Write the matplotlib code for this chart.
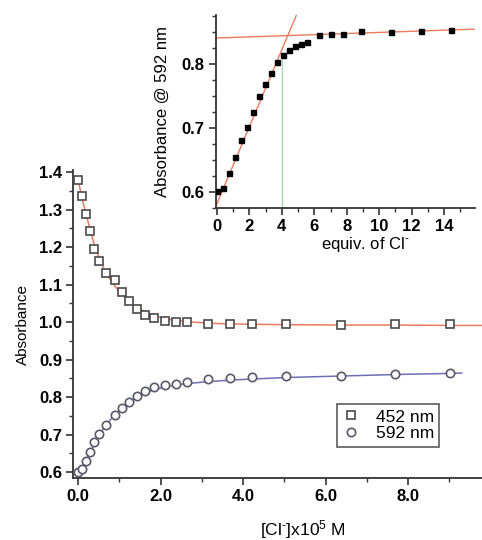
import matplotlib
matplotlib.use('Agg')
import matplotlib.pyplot as plt
from matplotlib.ticker import MultipleLocator, FormatStrFormatter

plt.rcParams['font.family'] = ['Liberation Sans', 'DejaVu Sans']
plt.rcParams['mathtext.fontset'] = 'custom'
plt.rcParams['mathtext.rm'] = 'Liberation Sans'
plt.rcParams['mathtext.it'] = 'Liberation Sans:italic'

# main plot: concentration of Cl- (x10^5 M)
conc = [0.0, 0.10, 0.20, 0.29, 0.40, 0.52, 0.69, 0.90, 1.06, 1.24, 1.42, 1.62,
        1.85, 2.11, 2.38, 2.65, 3.16, 3.68, 4.21, 5.04, 6.37, 7.68, 9.02]
abs452 = [1.379, 1.335, 1.288, 1.243, 1.196, 1.163, 1.131, 1.112, 1.079, 1.056,
          1.035, 1.019, 1.010, 1.004, 1.001, 0.999, 0.996, 0.996, 0.994, 0.995,
          0.993, 0.994, 0.994]
abs592 = [0.599, 0.607, 0.630, 0.654, 0.681, 0.701, 0.725, 0.752, 0.771, 0.787,
          0.803, 0.815, 0.827, 0.831, 0.836, 0.840, 0.849, 0.851, 0.853, 0.857,
          0.857, 0.861, 0.864]

# fitted curves
fit452_x = [0.0, 0.10, 0.20, 0.30, 0.40, 0.52, 0.69, 0.90, 1.06, 1.24, 1.42, 1.62,
            1.85, 2.11, 2.38, 2.65, 3.16, 3.68, 4.21, 5.04, 6.37, 7.68, 9.02, 9.8]
fit452_y = [1.381, 1.330, 1.285, 1.245, 1.205, 1.168, 1.128, 1.095, 1.074, 1.055,
            1.040, 1.027, 1.017, 1.009, 1.004, 1.001, 0.997, 0.995, 0.994, 0.993,
            0.992, 0.992, 0.991, 0.991]
fit592_x = [0.0, 0.10, 0.20, 0.30, 0.40, 0.52, 0.69, 0.90, 1.06, 1.24, 1.42, 1.62,
            1.85, 2.11, 2.38, 2.65, 3.16, 3.68, 4.21, 5.04, 6.37, 7.68, 9.02, 9.3]
fit592_y = [0.598, 0.610, 0.630, 0.652, 0.675, 0.699, 0.727, 0.754, 0.771, 0.787,
            0.800, 0.811, 0.820, 0.827, 0.832, 0.836, 0.841, 0.845, 0.848, 0.852,
            0.856, 0.860, 0.863, 0.864]

# inset: equivalents of Cl-
equiv = [0.0, 0.37, 0.74, 1.11, 1.48, 1.85, 2.22, 2.59, 2.96, 3.33, 3.70, 4.07,
         4.44, 4.81, 5.18, 5.55, 6.30, 7.04, 7.78, 8.90, 10.75, 12.60, 14.45]
abs592_inset = [0.602, 0.607, 0.629, 0.655, 0.681, 0.702, 0.725, 0.750, 0.769,
                0.786, 0.803, 0.814, 0.823, 0.828, 0.832, 0.835, 0.845, 0.847,
                0.848, 0.852, 0.850, 0.852, 0.853]
steep_x = [-0.06, 4.9]
steep_y = [0.578, 0.877]
flat_x = [-0.06, 16.0]
flat_y = [0.841, 0.855]
endpoint_x = [4.0, 4.0]
endpoint_y = [0.575, 0.815]

fig = plt.figure(figsize=(4.82, 5.4), dpi=100)

ax = fig.add_axes([0.1515, 0.1148, 0.8485, 0.570])
ax.plot(fit452_x, fit452_y, color='#ec7a5e', lw=1.1, zorder=2)
ax.plot(fit592_x, fit592_y, color='#6e6eb4', lw=1.1, zorder=2)
ax.plot(conc, abs452, 's', ms=5.5, mfc='white', mec='#4a4a4a', mew=1.2,
        label='452 nm', zorder=3)
ax.plot(conc, abs592, 'o', ms=6, mfc='white', mec='#585868', mew=1.2,
        label='592 nm', zorder=3)
ax.set_xlim(-0.12, 9.79)
ax.set_ylim(0.584, 1.405)
ax.xaxis.set_major_locator(MultipleLocator(2))
ax.xaxis.set_minor_locator(MultipleLocator(1))
ax.yaxis.set_major_locator(MultipleLocator(0.1))
ax.yaxis.set_minor_locator(MultipleLocator(0.05))
ax.xaxis.set_major_formatter(FormatStrFormatter('%.1f'))
ax.yaxis.set_major_formatter(FormatStrFormatter('%.1f'))
ax.set_xlabel('[Cl$^{\u2010}$]x10$^{5}$ M', fontsize=12.5)
ax.xaxis.set_label_coords(0.562, -0.13)
ax.set_ylabel('Absorbance', fontsize=11)
ax.yaxis.set_label_coords(-0.105, 0.5)

leg = ax.legend(loc='upper left', bbox_to_anchor=(0.625, 0.268), fontsize=12.5,
                frameon=True, fancybox=False, handletextpad=0.9,
                borderpad=0.3, labelspacing=0.1, handlelength=1.0)
leg.get_frame().set_edgecolor('#333333')
leg.get_frame().set_linewidth(1.2)

ins = fig.add_axes([0.448, 0.6148, 0.5375, 0.3574])
ins.plot(steep_x, steep_y, color='#ec7a5e', lw=1.0, zorder=2)
ins.plot(flat_x, flat_y, color='#ec7a5e', lw=1.0, zorder=2)
ins.plot(endpoint_x, endpoint_y, color='#a8d8b0', lw=1.0, zorder=1)
ins.plot(equiv, abs592_inset, 's', ms=3.6, color='black', zorder=3)
ins.set_xlim(-0.06, 15.9)
ins.set_ylim(0.575, 0.877)
ins.xaxis.set_major_locator(MultipleLocator(2))
ins.xaxis.set_minor_locator(MultipleLocator(1))
ins.yaxis.set_major_locator(MultipleLocator(0.1))
ins.yaxis.set_minor_locator(MultipleLocator(0.025))
ins.yaxis.set_major_formatter(FormatStrFormatter('%.1f'))
ins.set_xlabel('equiv. of Cl$^{\u2010}$', fontsize=12)
ins.xaxis.set_label_coords(0.575, -0.14)
ins.set_ylabel('Absorbance @ 592 nm', fontsize=12)
ins.yaxis.set_label_coords(-0.178, 0.5)

for a in (ax, ins):
    for s in ('top', 'right'):
        a.spines[s].set_visible(False)
    for s in ('left', 'bottom'):
        a.spines[s].set_color('#333333')
        a.spines[s].set_linewidth(1.3)
    a.tick_params(which='major', direction='out', length=5, width=1.2,
                  color='#333333', pad=3)
    a.tick_params(which='minor', direction='out', length=3, width=1.0,
                  color='#333333')
    for lab in a.get_xticklabels() + a.get_yticklabels():
        lab.set_fontweight('bold')
        lab.set_fontsize(12)
    a.patch.set_alpha(0)

fig.savefig('out.png', dpi=100)
